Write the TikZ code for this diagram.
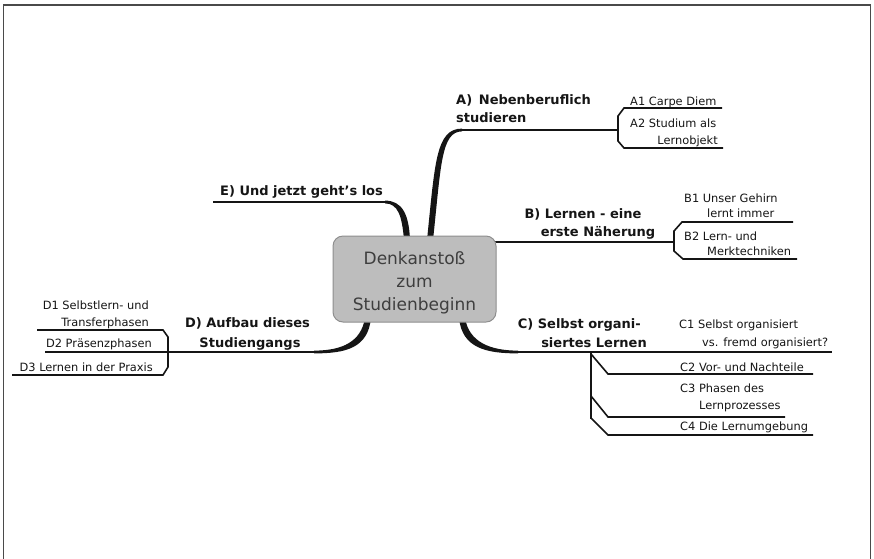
\documentclass[tikz,border=0pt]{standalone}
\usepackage{fontspec}
\setmainfont{DejaVu Sans}
\usetikzlibrary{calc}
\definecolor{ink}{HTML}{151515}
\definecolor{rootfill}{HTML}{BDBDBD}
\definecolor{rootedge}{HTML}{8E8E8E}
\definecolor{roottext}{HTML}{3E3E3E}
\definecolor{framecol}{HTML}{4A4A4A}
\begin{document}
\begin{tikzpicture}[x=1pt,y=-1pt,
  branchlbl/.style={font=\fontsize{13}{16}\selectfont\bfseries,inner sep=0pt,text=ink},
  sublbl/.style={font=\fontsize{11.4}{14}\selectfont,inner sep=0pt,text=ink},
  trunk/.style={line width=2.8pt,draw=ink},
  twig/.style={line width=1.6pt,draw=ink,line join=miter},
  taper/.style={fill=ink},
  rootbox/.style={draw=rootedge,line width=1pt,fill=rootfill,rounded corners=10pt,
    minimum width=163pt,minimum height=86pt,inner sep=0pt},
  roottxt/.style={font=\fontsize{17}{23}\selectfont,text=roottext,align=center,inner sep=0pt}]
\useasboundingbox (0,0) rectangle (874,558);

% outer frame (open at the bottom)
\draw[framecol,line width=1.8pt] (3.5,560) -- (3.5,5) -- (870.5,5) -- (870.5,560);

% ---------- anchor points of the main branches ----------
\coordinate (aR) at (430,240);  \coordinate (aH) at (462,130);  \coordinate (aE) at (618,130);
\coordinate (bR) at (490,242);  \coordinate (bE) at (674,242);
\coordinate (cR) at (462,318);  \coordinate (cH) at (518,352);  \coordinate (cE) at (657,352);
\coordinate (dR) at (368,318);  \coordinate (dH) at (314,352);  \coordinate (dE) at (168,352);
\coordinate (eR) at (407,240);  \coordinate (eH) at (385,202);  \coordinate (eE) at (213,202);

% ---------- branch A ----------
\fill[taper] ($(aR)+(-3,0)$) .. controls ($(aR)+(5,-78)$) and ($(aH)+(-26,-1.4)$) .. ($(aH)+(0,-1.4)$)
  -- ($(aH)+(0,1.4)$) .. controls ($(aH)+(-21,1.4)$) and ($(aR)+(11,-74)$) .. ($(aR)+(3,0)$) -- cycle;
\draw[trunk] (aH) -- (aE);
\coordinate (a1E) at (722,108); \coordinate (a2E) at (723,148);
\draw[twig] (a1E) -- (624,108) -- (618,116) -- (618,141) -- (624,148) -- (a2E);
\node[branchlbl,anchor=base west] (aL1) at (456,104) {A)\, Nebenberuflich};
\node[branchlbl,anchor=base west] (aL2) at (456,122) {studieren};
\node[sublbl,anchor=base west] (a1) at (630,105) {A1 Carpe Diem};
\node[sublbl,anchor=base west] (a2a) at (630,127) {A2 Studium als};
\node[sublbl,anchor=base east] (a2b) at (718,144) {Lernobjekt};

% ---------- branch B ----------
\draw[trunk] (bR) -- (bE);
\coordinate (b1E) at (793,222); \coordinate (b2E) at (797,259);
\draw[twig] (b1E) -- (682,222) -- (674,231) -- (674,251) -- (683,259) -- (b2E);
\node[branchlbl,anchor=base] (bL1) at (583,218) {B) Lernen - eine};
\node[branchlbl,anchor=base] (bL2) at (598,236) {erste Näherung};
\node[sublbl,anchor=base west] (b1a) at (684,202) {B1 Unser Gehirn};
\node[sublbl,anchor=base west] (b1b) at (707,217) {lernt immer};
\node[sublbl,anchor=base west] (b2a) at (684,240) {B2 Lern- und};
\node[sublbl,anchor=base west] (b2b) at (707,255) {Merktechniken};

% ---------- branch C ----------
\fill[taper] ($(cR)+(-3,0)$) .. controls ($(cR)+(0,30)$) and ($(cH)+(-32,1.4)$) .. ($(cH)+(0,1.4)$)
  -- ($(cH)+(0,-1.4)$) .. controls ($(cH)+(-28,-1.4)$) and ($(cR)+(7,24)$) .. ($(cR)+(3,0)$) -- cycle;
\draw[trunk] (cH) -- (cE);
\coordinate (c1E) at (832,352); \coordinate (cS) at (591,352);
\draw[twig] (cE) -- (c1E);
\draw[twig] (cS) -- (591,419);
\draw[twig] (591,354) -- (608,374) -- (813,374);
\draw[twig] (591,396) -- (608,417) -- (785,417);
\draw[twig] (591,418) -- (608,435) -- (813,435);
\node[branchlbl,anchor=base east] (cL1) at (641,328) {C) Selbst organi-};
\node[branchlbl,anchor=base east] (cL2) at (647,347) {siertes Lernen};
\node[sublbl,anchor=base west] (c1a) at (679,328) {C1 Selbst organisiert};
\node[sublbl,anchor=base west] (c1b) at (702,346) {vs. fremd organisiert?};
\node[sublbl,anchor=base west] (c2) at (680,371) {C2 Vor- und Nachteile};
\node[sublbl,anchor=base west] (c3a) at (680,392) {C3 Phasen des};
\node[sublbl,anchor=base west] (c3b) at (699,409) {Lernprozesses};
\node[sublbl,anchor=base west] (c4) at (680,430) {C4 Die Lernumgebung};

% ---------- branch D ----------
\fill[taper] ($(dR)+(3,0)$) .. controls ($(dR)+(0,30)$) and ($(dH)+(32,1.4)$) .. ($(dH)+(0,1.4)$)
  -- ($(dH)+(0,-1.4)$) .. controls ($(dH)+(28,-1.4)$) and ($(dR)+(-7,24)$) .. ($(dR)+(-3,0)$) -- cycle;
\draw[trunk] (dH) -- (dE);
\coordinate (d2E) at (45,352); \coordinate (d1E) at (37,330); \coordinate (d3E) at (12,375);
\draw[twig] (dE) -- (d2E);
\draw[twig] (d1E) -- (163,330) -- (168,337) -- (168,367) -- (163,375) -- (d3E);
\node[branchlbl,anchor=base] (dL1) at (247.5,327) {D) Aufbau dieses};
\node[branchlbl,anchor=base] (dL2) at (250,347) {Studiengangs};
\node[sublbl,anchor=base east] (d1a) at (149,309) {D1 Selbstlern- und};
\node[sublbl,anchor=base east] (d1b) at (149,326) {Transferphasen};
\node[sublbl,anchor=base east] (d2) at (152,347) {D2 Präsenzphasen};
\node[sublbl,anchor=base east] (d3) at (153,371) {D3 Lernen in der Praxis};

% ---------- branch E ----------
\fill[taper] ($(eH)+(0,-1.4)$) .. controls ($(eH)+(17,-1.4)$) and ($(eR)+(2,-26)$) .. ($(eR)+(3,0)$)
  -- ($(eR)+(-3,0)$) .. controls ($(eR)+(-5,-24)$) and ($(eH)+(13,1.4)$) .. ($(eH)+(0,1.4)$) -- cycle;
\draw[trunk] (eH) -- (eE);
\node[branchlbl,anchor=base west] (eL) at (220,195) {E) Und jetzt geht's los};

% ---------- central topic ----------
\node[rootbox] (root) at (414.5,279) {};
\node[roottxt] (rootlbl) at (414.5,283) {Denkanstoß\\zum\\Studienbeginn};
\end{tikzpicture}
\end{document}
